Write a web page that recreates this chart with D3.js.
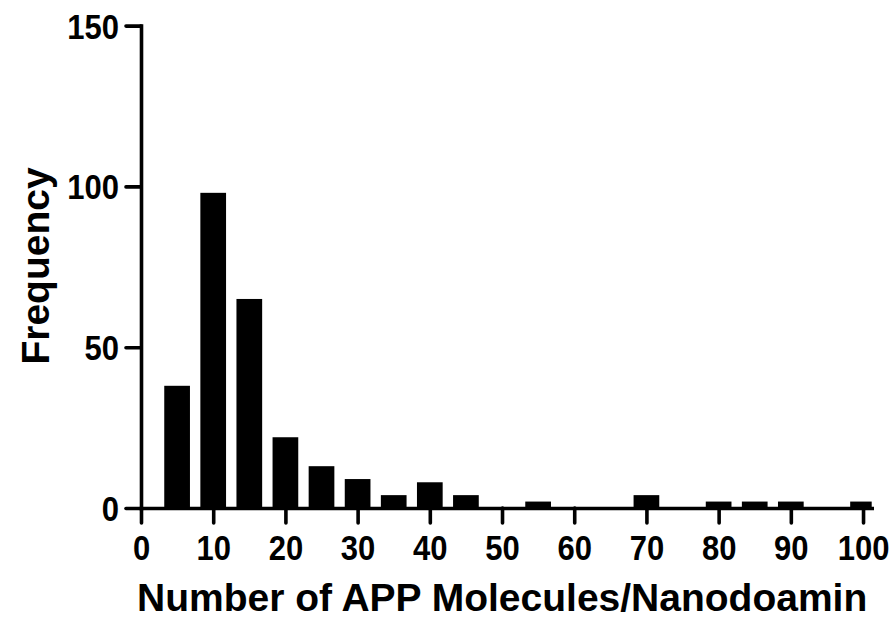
<!DOCTYPE html>
<html>
<head>
<meta charset="utf-8">
<script src="https://cdn.jsdelivr.net/npm/d3@7"></script>
<style>
  html, body { margin: 0; padding: 0; background: #fff; }
  svg { display: block; }
</style>
</head>
<body>
<svg id="chart" width="896" height="618"></svg>
<script>
// ---- data ----
const binCenters = [5, 10, 15, 20, 25, 30, 35, 40, 45, 50, 55, 60, 65, 70, 75, 80, 85, 90, 95, 100];
const frequencies = [38, 98, 65, 22, 13, 9, 4, 8, 4, 0, 2, 0, 0, 4, 0, 2, 2, 2, 0, 2];
const xTickValues = [0, 10, 20, 30, 40, 50, 60, 70, 80, 90, 100];
const yTickValues = [0, 50, 100, 150];
const xTitle = "Number of APP Molecules/Nanodoamin";
const yTitle = "Frequency";

// ---- layout ----
const svg = d3.select("#chart");
const plotLeft = 141, plotRight = 871.7, plotTop = 25.6, plotBottom = 508;
const x = d3.scaleLinear().domain([0, 101.2]).range([plotLeft, plotRight]);
const y = d3.scaleLinear().domain([0, 150]).range([plotBottom, plotTop]);
const barW = x(3.56) - x(0);
const fontFam = "'Liberation Sans', Arial, Helvetica, sans-serif";

svg.append("clipPath").attr("id", "plotClip")
  .append("rect").attr("x", plotLeft).attr("y", 0).attr("width", plotRight - plotLeft).attr("height", plotBottom);

// bars
svg.append("g").attr("clip-path", "url(#plotClip)")
  .selectAll("rect").data(binCenters.map((c, i) => ({c, v: frequencies[i]})).filter(d => d.v > 0))
  .join("rect")
  .attr("x", d => x(d.c) - barW / 2)
  .attr("width", barW)
  .attr("y", d => y(d.v))
  .attr("height", d => y(0) - y(d.v))
  .attr("fill", "#000");

// axes
const sw = 3.6;
const yAxis = svg.append("g").attr("transform", `translate(${plotLeft},0)`)
  .call(d3.axisLeft(y).tickValues(yTickValues).tickSize(15).tickSizeOuter(0));
const xAxis = svg.append("g").attr("transform", `translate(0,${plotBottom})`)
  .call(d3.axisBottom(x).tickValues(xTickValues).tickSize(15).tickSizeOuter(0));

[yAxis, xAxis].forEach(g => {
  g.select(".domain").attr("stroke", "#000").attr("stroke-width", sw).attr("stroke-linecap", "square");
  g.selectAll(".tick line").attr("stroke", "#000").attr("stroke-width", sw).attr("stroke-linecap", "round");
  g.selectAll(".tick text")
    .attr("fill", "#000")
    .attr("font-family", fontFam)
    .attr("font-weight", "bold")
    .attr("font-size", 31);
});

yAxis.selectAll(".tick text")
  .attr("x", null).attr("dy", null)
  .attr("text-anchor", "end")
  .attr("transform", "translate(-22,12.5) scale(1,1.13)");

xAxis.selectAll(".tick text")
  .attr("y", null).attr("dy", null)
  .attr("text-anchor", "middle")
  .attr("transform", "translate(0,52) scale(1,1.13)");

// titles
svg.append("text")
  .attr("x", 137).attr("y", 611)
  .attr("font-family", fontFam).attr("font-weight", "bold").attr("font-size", 39)
  .attr("fill", "#000")
  .text(xTitle);

svg.append("text")
  .attr("transform", "translate(49,266) rotate(-90)")
  .attr("text-anchor", "middle")
  .attr("font-family", fontFam).attr("font-weight", "bold").attr("font-size", 39)
  .attr("fill", "#000")
  .text(yTitle);
</script>
</body>
</html>
